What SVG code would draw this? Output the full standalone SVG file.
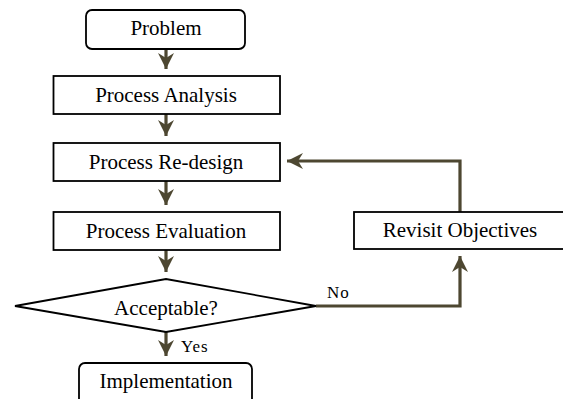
<svg xmlns="http://www.w3.org/2000/svg" width="563" height="399" viewBox="0 0 563 399">
<style>
.box{fill:#fff;stroke:#000;stroke-width:1.8}
.lbl{font-family:"Liberation Serif","Times New Roman",serif;font-size:21px;fill:#000;text-anchor:middle}
.small{font-family:"Liberation Serif","Times New Roman",serif;font-size:17px;fill:#000;letter-spacing:1px}
.conn{fill:none;stroke:#4d4731;stroke-width:3.2;marker-end:url(#arr)}
</style>
<defs>
<marker id="arr" markerUnits="userSpaceOnUse" viewBox="-17 -9 18 18" refX="0" refY="0" markerWidth="18" markerHeight="18" orient="auto">
<path d="M0,0 L-16,-8 L-11,0 L-16,8 Z" fill="#4d4731"/>
</marker>
</defs>
<rect width="563" height="399" fill="#fff"/>
<g id="connectors">
<path class="conn" d="M166,49 V69"/>
<path class="conn" d="M166,114 V136"/>
<path class="conn" d="M166,181 V205"/>
<path class="conn" d="M166,250 V272"/>
<path class="conn" d="M166,332 V356"/>
<path class="conn" d="M316,306 H460 V256"/>
<path class="conn" d="M460,212 V161 H287"/>
<text class="small" x="181" y="352">Yes</text>
<text class="small" x="327" y="298">No</text>
</g>
<g id="problem">
<rect class="box" x="86" y="10" width="159" height="39" rx="6"/>
<text class="lbl" x="166" y="35">Problem</text>
</g>
<g id="analysis">
<rect class="box" x="53.5" y="76" width="226.5" height="38"/>
<text class="lbl" x="166" y="102">Process Analysis</text>
</g>
<g id="redesign">
<rect class="box" x="53.5" y="143" width="226.5" height="38"/>
<text class="lbl" x="166" y="169">Process Re-design</text>
</g>
<g id="evaluation">
<rect class="box" x="53.5" y="212" width="226.5" height="38"/>
<text class="lbl" x="166" y="238">Process Evaluation</text>
</g>
<g id="acceptable">
<path class="box" d="M15,306 L166,279 L316,306 L166,332 Z"/>
<text class="lbl" x="166" y="315">Acceptable?</text>
</g>
<g id="implementation">
<rect class="box" x="79" y="363" width="173" height="48" rx="6"/>
<text class="lbl" x="166" y="388">Implementation</text>
</g>
<g id="revisit">
<rect class="box" x="354" y="212" width="215" height="37"/>
<text class="lbl" x="460" y="237">Revisit Objectives</text>
</g>
</svg>
